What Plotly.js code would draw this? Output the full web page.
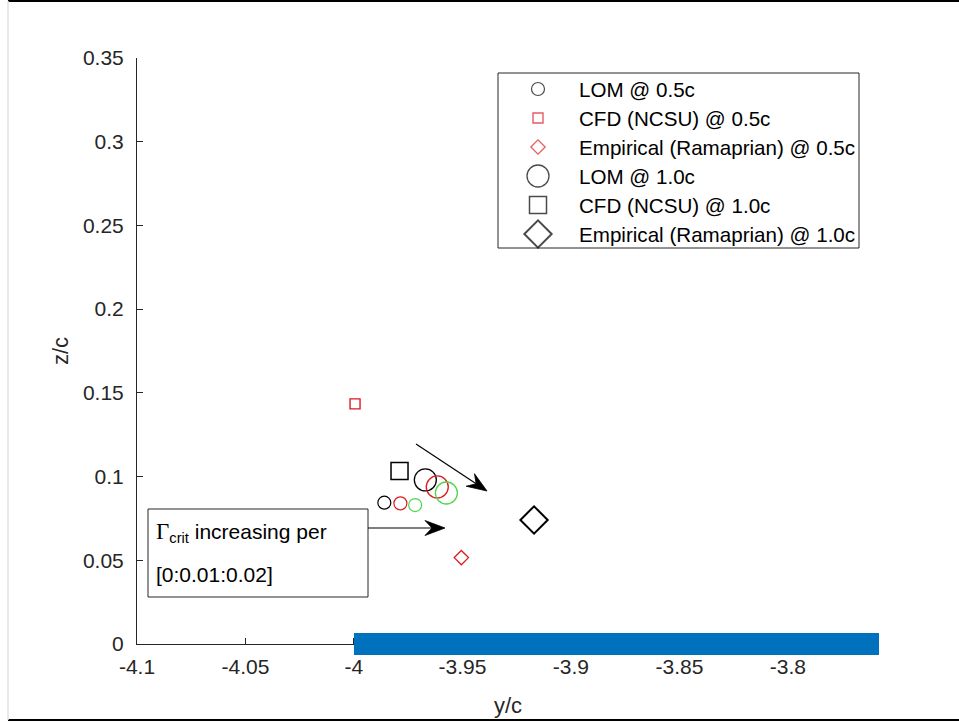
<!DOCTYPE html>
<html><head><meta charset="utf-8">
<script src="https://cdn.plot.ly/plotly-3.0.1.min.js"></script>
<style>html,body{margin:0;padding:0;background:#fff}#chart{width:959px;height:723px}</style>
</head><body><div id="chart"></div>
<script>
// ---------- data ----------
const gammaCrit = [0, 0.01, 0.02];
const lomY05 = [-3.986, -3.9786, -3.9718];
const lomZ05 = [0.0844, 0.0840, 0.0830];
const lomY10 = [-3.9671, -3.9616, -3.9574];
const lomZ10 = [0.0980, 0.0938, 0.0902];
const cfdY05 = [-3.9995];
const cfdZ05 = [0.1434];
const empY05 = [-3.9505];
const empZ05 = [0.0516];
const cfdY10 = [-3.979];
const cfdZ10 = [0.1033];
const empY10 = [-3.917];
const empZ10 = [0.0741];
const wingY = [-4.0, -3.758];
const wingZ = [0];
const legendLabels = ['LOM @ 0.5c', 'CFD (NCSU) @ 0.5c', 'Empirical (Ramaprian) @ 0.5c',
                      'LOM @ 1.0c', 'CFD (NCSU) @ 1.0c', 'Empirical (Ramaprian) @ 1.0c'];
const xTickVals = [-4.1, -4.05, -4, -3.95, -3.9, -3.85, -3.8];
const xTickText = ['-4.1', '-4.05', '-4', '-3.95', '-3.9', '-3.85', '-3.8'];
const yTickVals = [0, 0.05, 0.1, 0.15, 0.2, 0.25, 0.3, 0.35];
const yTickText = ['0', '0.05', '0.1', '0.15', '0.2', '0.25', '0.3', '0.35'];

// ---------- styles ----------
const gammaColors = ['#000000', '#dc1a22', '#4fd64f'];
const RED = '#dc1a22';
const styles = [
  {symbol: 'circle', size: 13, color: '#000000', width: 1.2},
  {symbol: 'square', size: 10, color: RED, width: 1.4},
  {symbol: 'diamond', size: 11, color: RED, width: 1.3},
  {symbol: 'circle', size: 22, color: '#000000', width: 1.3},
  {symbol: 'square', size: 17, color: '#000000', width: 1.5},
  {symbol: 'diamond', size: 21, color: '#000000', width: 2}
];
const seriesData = [
  [lomY05, lomZ05, gammaColors],
  [cfdY05, cfdZ05, null],
  [empY05, empZ05, null],
  [lomY10, lomZ10, gammaColors],
  [cfdY10, cfdZ10, null],
  [empY10, empZ10, null]
];

const FONT = 'Liberation Sans, Arial, Helvetica, sans-serif';
const AX = '#262626';
// pixel helpers for layout placement (plot area 137..879 x 58..644)
const L = 137, R = 879, T = 58, B = 644;
const px = x => (x - L) / (R - L);
const py = y => (B - y) / (B - T);
const Y_RANGE = [0, 0.35];
const WING_HALF = 11 / (B - T); // half thickness of wing bar, in domain units

const traces = [];
seriesData.forEach((s, i) => {
  const st = styles[i];
  traces.push({
    type: 'scatter', mode: 'markers', x: s[0], y: s[1], name: legendLabels[i],
    showlegend: false, cliponaxis: false,
    marker: {symbol: st.symbol, size: st.size, color: 'rgba(0,0,0,0)',
             line: {color: s[2] ? s[2] : st.color, width: st.width}}
  });
});
// custom legend markers (own axes in legend box, pixel units)
const legRows = legendLabels.map((_, i) => 16 + 29 * i);
traces.push({
  type: 'scatter', mode: 'markers', xaxis: 'x2', yaxis: 'y2',
  x: legendLabels.map(() => 40), y: legRows, showlegend: false, hoverinfo: 'skip',
  cliponaxis: false,
  marker: {symbol: styles.map(s => s.symbol), size: styles.map(s => s.size),
           color: 'rgba(0,0,0,0)',
           line: {color: styles.map(s => s.color), width: styles.map(s => s.width)}}
});

const annotations = legendLabels.map((t, i) => ({
  xref: 'x2', yref: 'y2', x: 79, y: legRows[i], xanchor: 'left', yanchor: 'middle',
  text: t, showarrow: false, font: {family: FONT, size: 20.6, color: '#000'}
}));
// text box lines
annotations.push({xref: 'paper', yref: 'paper', x: px(154), y: py(532), xanchor: 'left', yanchor: 'middle',
  text: '<span style="font-family:Liberation Serif;font-size:23px">Γ</span><sub>crit</sub> increasing per',
  showarrow: false, font: {family: FONT, size: 21, color: '#000'}});
annotations.push({xref: 'paper', yref: 'paper', x: px(154), y: py(574), xanchor: 'left', yanchor: 'middle',
  text: '[0:0.01:0.02]', showarrow: false, font: {family: FONT, size: 21, color: '#000'}});

const wingC = (wingZ[0] - Y_RANGE[0]) / (Y_RANGE[1] - Y_RANGE[0]);
const shapes = [
  // wing (data x, domain y so that it is not clipped vertically)
  {type: 'rect', xref: 'x', yref: 'y domain', x0: wingY[0], x1: wingY[1],
   y0: wingC - WING_HALF, y1: wingC + WING_HALF,
   line: {width: 0}, fillcolor: '#0072BD', layer: 'above'},
  // legend box
  {type: 'rect', xref: 'paper', yref: 'paper', x0: px(498), x1: px(859), y0: py(248), y1: py(73),
   line: {color: AX, width: 1}, fillcolor: '#fff', layer: 'below'},
  // text box
  {type: 'rect', xref: 'paper', yref: 'paper', x0: px(148), x1: px(368), y0: py(597), y1: py(509),
   line: {color: AX, width: 1}, fillcolor: '#fff', layer: 'above'},
  // image frame
  {type: 'line', xref: 'paper', yref: 'paper', x0: px(8), x1: px(959), y0: py(1), y1: py(1),
   line: {color: '#000', width: 2}},
  {type: 'line', xref: 'paper', yref: 'paper', x0: px(8), x1: px(959), y0: py(720), y1: py(720),
   line: {color: '#000', width: 2}},
  {type: 'line', xref: 'paper', yref: 'paper', x0: px(8), x1: px(8), y0: py(720), y1: py(1),
   line: {color: '#e2e2e2', width: 1.5}}
];

// arrows (annotation arrows drawn as shapes, placed in pixel space)
function addArrow(tail, tip) {
  const dx = tip[0] - tail[0], dy = tip[1] - tail[1];
  const len = Math.hypot(dx, dy);
  const ux = dx / len, uy = dy / len, nx = -uy, ny = ux;
  const HL = 20, HW = 7.5, NOTCH = 13;
  const back = [tip[0] - HL * ux, tip[1] - HL * uy];
  const notch = [tip[0] - NOTCH * ux, tip[1] - NOTCH * uy];
  const p1 = [back[0] + HW * nx, back[1] + HW * ny];
  const p2 = [back[0] - HW * nx, back[1] - HW * ny];
  shapes.push({type: 'line', xref: 'paper', yref: 'paper',
    x0: px(tail[0]), y0: py(tail[1]), x1: px(notch[0]), y1: py(notch[1]),
    line: {color: '#000', width: 1.2}, layer: 'above'});
  const P = p => px(p[0]).toFixed(5) + ',' + py(p[1]).toFixed(5);
  shapes.push({type: 'path', xref: 'paper', yref: 'paper',
    path: 'M' + P(tip) + ' L' + P(p1) + ' L' + P(notch) + ' L' + P(p2) + ' Z',
    fillcolor: '#000', line: {color: '#000', width: 0.8}, layer: 'above'});
}
addArrow([416, 444], [487, 491]);
addArrow([368, 528], [445, 528]);

const layout = {
  width: 959, height: 723,
  margin: {l: L, r: 959 - R, t: T, b: 723 - B, pad: 0},
  paper_bgcolor: '#fff', plot_bgcolor: 'rgba(0,0,0,0)',
  showlegend: false,
  font: {family: FONT, color: AX},
  xaxis: {range: [-4.1, wingY[1]], tickvals: xTickVals, ticktext: xTickText,
          ticks: 'inside', ticklen: 6, tickcolor: AX, tickwidth: 1,
          showline: true, linecolor: AX, linewidth: 1, showgrid: false, zeroline: false,
          layer: 'below traces', tickfont: {size: 21, color: AX}, ticklabelstandoff: 4,
          title: {text: 'y/c', font: {size: 22, color: AX}, standoff: 20}, fixedrange: true},
  yaxis: {range: Y_RANGE, tickvals: yTickVals, ticktext: yTickText,
          ticks: 'inside', ticklen: 6, tickcolor: AX, tickwidth: 1,
          showline: true, linecolor: AX, linewidth: 1, showgrid: false, zeroline: false,
          layer: 'below traces', tickfont: {size: 21, color: AX}, ticklabelstandoff: 8,
          title: {text: 'z/c', font: {size: 22, color: AX}, standoff: 8}, fixedrange: true},
  xaxis2: {domain: [px(498), px(859)], range: [0, 361], visible: false, anchor: 'y2', fixedrange: true},
  yaxis2: {domain: [py(248), py(73)], range: [175, 0], visible: false, anchor: 'x2', fixedrange: true},
  annotations: annotations,
  shapes: shapes
};

Plotly.newPlot('chart', traces, layout, {displayModeBar: false, staticPlot: true});
</script>
</body></html>
